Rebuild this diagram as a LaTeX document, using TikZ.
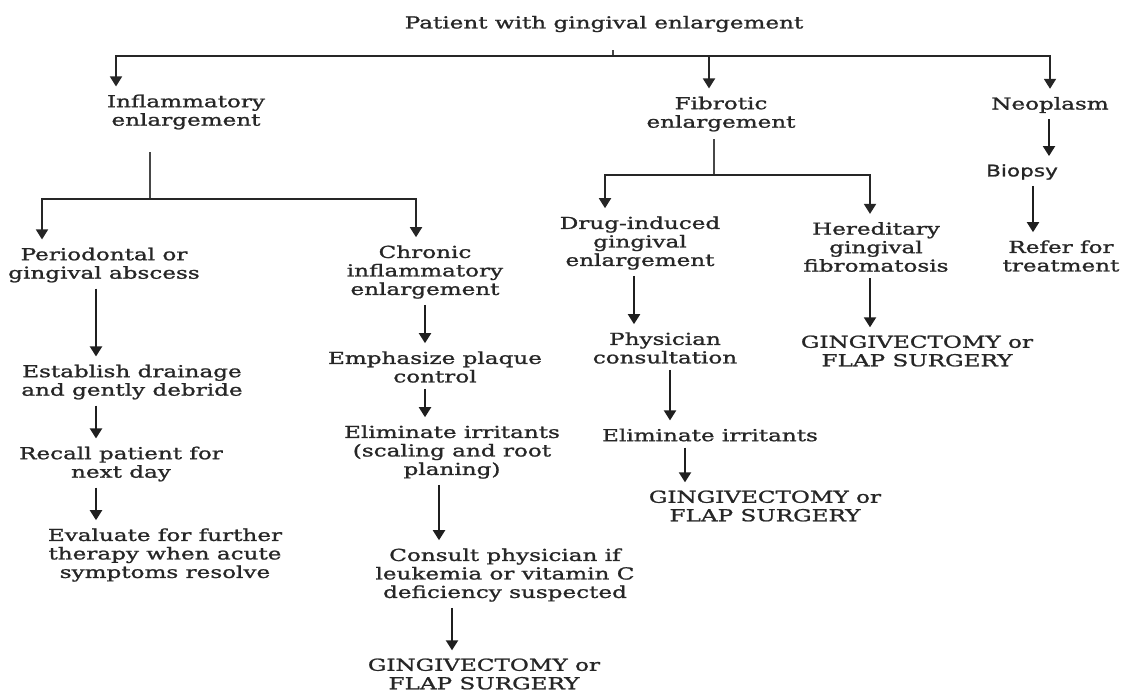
\documentclass[tikz,border=0pt]{standalone}
\usepackage{fontspec}
\setmainfont[FakeStretch=1.4,FakeBold=1.3]{DejaVu Serif}
\newfontfamily\biopsyfont[FakeStretch=1.35,FakeBold=1.3]{DejaVu Sans}
\usetikzlibrary{arrows.meta}

\begin{document}
\begin{tikzpicture}[x=1pt,y=-1pt,
	txt/.style={align=center,inner sep=2pt,text=black!85,font=\fontsize{16.5}{18.5}\selectfont},
	arr/.style={-{Triangle[width=12pt,length=10pt]},line width=2pt,draw=black!88,shorten <=4pt,shorten >=6pt},
	barr/.style={-{Triangle[width=12pt,length=10pt]},line width=1.8pt,draw=black!85,shorten >=6pt},
	bar/.style={line width=1.7pt,draw=black!72}]
	\useasboundingbox (0,0) rectangle (1131,691);

	% first level
	\node[txt] (title) at (604,24) {Patient with gingival enlargement};
	\node[txt] (infl) at (186,112) {Inflammatory\\enlargement};
	\node[txt] (fibr) at (721,114) {Fibrotic\\enlargement};
	\node[txt] (neo) at (1050,105) {Neoplasm};

	\coordinate (tb) at (613,56);
	\draw[bar] (tb) -- ++(0,-6);
	\draw[barr] (tb) -| ([xshift=-70]infl.north);
	\draw[barr] (tb) -| (neo.north);
	\draw[barr] ([xshift=-12]fibr.north |- tb) -- ([xshift=-12]fibr.north);

	% neoplasm
	\node[txt,font=\fontsize{16}{18.5}\biopsyfont] (biop) at (1022,172) {Biopsy};
	\node[txt] (refer) at (1061,256) {Refer for\\treatment};
	\draw[arr] ([xshift=-1]neo.south) -- ([xshift=27]biop.north);
	\draw[arr] ([xshift=11]biop.south) -- ([xshift=-28]refer.north);

	% inflammatory
	\node[txt] (perio) at (104,265) {Periodontal or\\gingival abscess};
	\node[txt] (chron) at (425,272) {Chronic\\inflammatory\\enlargement};
	\coordinate (ij) at (150,199);
	\draw[bar] (ij) -- ++(0,-47);
	\draw[barr] (ij) -| ([xshift=-62]perio.north);
	\draw[barr] (ij) -| ([xshift=-9]chron.north);

	\node[txt] (estab) at (132,382) {Establish drainage\\and gently debride};
	\node[txt] (recall) at (121,464) {Recall patient for\\next day};
	\node[txt] (evalu) at (165,555) {Evaluate for further\\therapy when acute\\symptoms resolve};
	\draw[arr] ([xshift=-8]perio.south) -- ([xshift=-36]estab.north);
	\draw[arr] ([xshift=-36]estab.south) -- ([xshift=-25]recall.north);
	\draw[arr] ([xshift=-25]recall.south) -- ([xshift=-69]evalu.north);

	\node[txt] (emph) at (435,367) {Emphasize plaque\\control};
	\node[txt] (elim1) at (452,452) {Eliminate irritants\\(scaling and root\\planing)};
	\node[txt] (consult) at (505,575) {Consult physician if\\leukemia or vitamin C\\deficiency suspected};
	\node[txt] (gv1) at (484,674) {GINGIVECTOMY or\\FLAP SURGERY};
	\draw[arr] (chron.south) -- ([xshift=-10]emph.north);
	\draw[arr] ([xshift=-10]emph.south) -- ([xshift=-27]elim1.north);
	\draw[arr] ([xshift=-13]elim1.south) -- ([xshift=-66]consult.north);
	\draw[arr] ([xshift=-53]consult.south) -- ([xshift=-32]gv1.north);

	% fibrotic
	\node[txt] (drug) at (640,243) {Drug-induced\\gingival\\enlargement};
	\node[txt] (her) at (876,247) {Hereditary\\gingival\\fibromatosis};
	\coordinate (fj) at (714,175);
	\draw[bar] (fj) -- ++(0,-36);
	\draw[barr] (fj) -| ([xshift=-35]drug.north);
	\draw[barr] (fj) -| ([xshift=-6]her.north);

	\node[txt] (phys) at (665,348) {Physician\\consultation};
	\node[txt] (elim2) at (710,435) {Eliminate irritants};
	\node[txt] (gv2) at (765,506) {GINGIVECTOMY or\\FLAP SURGERY};
	\node[txt] (gv3) at (917,351) {GINGIVECTOMY or\\FLAP SURGERY};
	\draw[arr] ([xshift=-6]drug.south) -- ([xshift=-31]phys.north);
	\draw[arr] ([xshift=5]phys.south) -- ([xshift=-40]elim2.north);
	\draw[arr] ([xshift=-25]elim2.south) -- ([xshift=-80]gv2.north);
	\draw[arr] ([xshift=-6]her.south) -- ([xshift=-47]gv3.north);
\end{tikzpicture}
\end{document}
